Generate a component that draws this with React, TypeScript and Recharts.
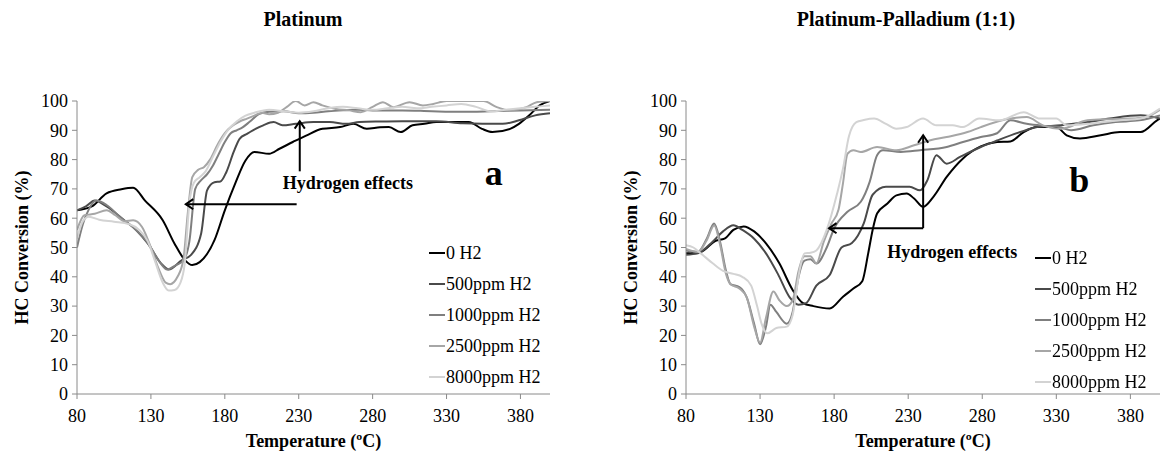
import React from 'react';
import { LineChart, Line, XAxis, YAxis, ReferenceLine, ReferenceDot, Legend } from 'recharts';

const FONT = "'Liberation Serif', 'Times New Roman', Times, 'DejaVu Serif', serif";

const seriesNames = ['0 H2', '500ppm H2', '1000ppm H2', '2500ppm H2', '8000ppm H2'];
const seriesColors = ['#000000', '#4a4a4a', '#7f7f7f', '#a6a6a6', '#d3d3d3'];
const xTicks = [80, 130, 180, 230, 280, 330, 380];
const yTicks = [0, 10, 20, 30, 40, 50, 60, 70, 80, 90, 100];

// Platinum: [temperature °C, HC conversion %]
const pt0H2: [number, number][] = [[80,62.7],[90,64],[100,68.5],[110,69.9],[118,70.4],[126,66],[138,59.3],[146,51.3],[153,45.7],[158,44],[163,45],[173,52.5],[180,62.7],[187,71.8],[194,79.7],[200,82.6],[210,82],[217,83.7],[226,86],[235,88.2],[246,90.5],[258,91.1],[267,92.2],[276,90.5],[285,91],[291,91.1],[299,89.4],[307,91.7],[315,92.2],[323,92.8],[345,92.8],[354,90.5],[361,89.4],[373,90.5],[379,92.2],[386,95.1],[393,98.5],[400,100]];
const pt500: [number, number][] = [[80,62.7],[86,64],[92,66],[100,64],[112,59.3],[120,56],[128,51.3],[137,44.5],[142,42.5],[151,45.7],[157,47.4],[164,54.8],[168,69.5],[173,72.3],[177,72.5],[181,75.7],[186,82.6],[190,87.1],[195,88.8],[199,90],[206,91.7],[213,92.8],[219,91.7],[228,92.2],[240,92.8],[251,92.8],[262,92.2],[271,92.8],[285,93],[300,93.1],[323,93.1],[341,92.4],[368,92.2],[379,93.4],[390,95.1],[400,95.8]];
const pt1000: [number, number][] = [[80,50],[84,58],[88,63],[93,66],[100,64.5],[110,60],[120,56],[128,51.5],[136,45],[141,42.5],[147,44],[152,45.5],[156,52],[160,70],[164,73],[168,75],[172,78],[176,82],[180,86],[184,89],[188,90],[192,91],[197,93],[203,95.5],[210,96.3],[220,96.5],[230,95.8],[240,96],[250,96.5],[260,96.8],[270,97],[280,96.8],[300,96.8],[320,96.5],[340,96.3],[360,96.5],[380,96.8],[400,97]];
const pt2500: [number, number][] = [[80,56],[85,61],[92,61.5],[100,62.7],[106,61],[112,59],[118,59.3],[124,57],[130,50],[135,43],[140,38],[143,37.5],[148,40],[152,46],[155,62],[158,74],[162,76.5],[166,77.5],[170,80],[175,85],[180,89],[185,91.5],[190,93],[195,94],[200,95],[205,96],[210,95.5],[216,96],[222,98],[228,100],[234,98.5],[240,99.6],[246,98.5],[255,97.3],[264,96.8],[272,96.2],[280,98],[287,99.6],[294,97.9],[305,99.6],[314,98.5],[321,99],[330,100],[355,100],[364,97.9],[373,96.8],[384,97.9],[391,99.6],[400,100]];
const pt8000: [number, number][] = [[80,53],[84,59],[88,60.5],[95,59.5],[105,58.8],[115,58],[122,56],[128,52],[133,45],[138,38],[142,35.3],[146,35.5],[150,38],[153,45],[156,65],[159,72],[163,74],[167,76],[172,81],[177,86],[182,90],[188,93],[194,95],[200,96],[210,97],[220,96.5],[230,96],[240,96.5],[250,97.5],[260,98],[270,97.5],[280,97],[290,97.5],[300,98],[310,97.5],[320,98],[330,98.5],[340,99],[350,98],[360,96.5],[370,97],[380,97.5],[390,98],[400,98.5]];

// Platinum-Palladium (1:1)
const pd0H2: [number, number][] = [[80,48],[90,48.5],[100,52.3],[106,53],[112,56],[119,57.2],[126,55.5],[134,51.4],[143,44.6],[152,35.5],[159,31],[166,30],[177,29.2],[186,33.2],[193,36],[199,38.5],[203,48],[206,56],[209,61.6],[216,65],[222,67.8],[229,68.4],[234,66.7],[240,63.9],[247,67.3],[256,74.1],[267,80.4],[279,84.5],[290,86],[299,86.2],[308,89.4],[317,91.1],[330,91.1],[337,88.3],[346,87.2],[360,88.3],[373,89.4],[387,89.4],[398,93.4],[400,94]];
const pd500: [number, number][] = [[80,47.5],[88,48],[98,52],[105,55.5],[112,57.6],[118,56],[126,53],[134,48],[142,41],[150,33],[156,30.5],[161,31],[168,37],[177,40.6],[185,50],[192,51.5],[200,58.2],[206,68],[215,70.7],[231,70.7],[238,69.5],[243,73],[249,81.5],[256,78.6],[265,80.9],[279,84.3],[290,86.5],[308,89.8],[317,91.1],[333,91.7],[351,92.8],[366,94],[387,95.1],[400,94]];
const pd1000: [number, number][] = [[80,49],[88,48.5],[94,53],[99,58.2],[103,52],[107,42],[110,37.5],[116,36.5],[121,33],[126,24],[130,17],[134,23],[137,30.5],[141,28],[148,24],[152,28],[156,40],[160,45.5],[164,46],[168,44.5],[175,50],[180,56.5],[189,62.2],[198,65.6],[204,72.4],[209,81.5],[213,83.2],[225,82.6],[238,83.2],[256,84.3],[267,86],[279,87.7],[290,89],[299,93.4],[310,92.2],[322,91.5],[332,91.1],[340,90],[355,91.7],[370,92.8],[386,93.4],[400,95.1]];
const pd2500: [number, number][] = [[80,49.5],[88,48.5],[94,52.5],[99,57.5],[103,51],[107,41],[110,37.5],[116,36],[121,33],[126,23],[130,17.5],[134,26],[139,35],[143,32],[148,30],[152,32],[156,42],[160,47],[164,47],[168,44.6],[173,52],[178,58],[183,63],[186,72],[189,82],[193,83.2],[198,82.6],[209,84.3],[222,83.2],[234,84.9],[245,86.6],[256,87.7],[270,89.4],[279,91.1],[299,94],[310,94.5],[321,91.7],[333,90.5],[351,93.4],[365,93.8],[380,94],[390,94.5],[400,97]];
const pd8000: [number, number][] = [[80,50.8],[85,50],[90,48],[98,44.6],[105,42],[112,41],[118,40],[124,37],[128,30],[131,24],[135,20.7],[141,22.5],[148,23],[152,27],[157,43],[160,48],[164,48.2],[168,49],[175,56],[182,68.4],[186,77],[190,88],[195,92.8],[200,93.5],[207,94],[215,92.2],[222,90.5],[229,91.1],[240,94],[249,91.7],[260,91.7],[267,91.1],[278,94],[292,93.4],[308,96.2],[319,94],[330,94],[337,91.7],[351,92.2],[362,92.8],[373,93.4],[387,94],[400,97.4]];

const toPoints = (arr: [number, number][]) => arr.map(([t, v]) => ({ t, v }));

const arrowShape = (props: any) => {
  const { x1, y1, x2, y2 } = props;
  const ang = Math.atan2(y2 - y1, x2 - x1);
  const L = 9;
  const w = 0.6;
  const ax1 = x2 - L * Math.cos(ang - w);
  const ay1 = y2 - L * Math.sin(ang - w);
  const ax2 = x2 - L * Math.cos(ang + w);
  const ay2 = y2 - L * Math.sin(ang + w);
  return (
    <g>
      <line x1={x1} y1={y1} x2={x2} y2={y2} stroke="#000" strokeWidth={2} />
      <path d={`M${ax1},${ay1} L${x2},${y2} L${ax2},${ay2}`} fill="none" stroke="#000" strokeWidth={2} />
    </g>
  );
};

const textShape = (label: string, size: number, anchor: 'start' | 'middle', baselineShift: number) => (props: any) => (
  <text x={props.cx} y={props.cy + baselineShift} textAnchor={anchor} style={{ fontFamily: FONT }} fontWeight="bold" fontSize={size} fill="#000">
    {label}
  </text>
);

const LegendBox = () => (
  <div style={{ fontFamily: FONT, fontSize: 18, color: '#000' }}>
    {seriesNames.map((n, i) => (
      <div key={n} style={{ display: 'flex', alignItems: 'center', height: 31 }}>
        <span style={{ display: 'inline-block', width: 16, height: 2, background: seriesColors[i], marginRight: 1 }} />
        <span style={{ lineHeight: '18px', whiteSpace: 'nowrap' }}>{n}</span>
      </div>
    ))}
  </div>
);

type PanelProps = {
  series: [number, number][][];
  width: number;
  marginRight: number;
  legendLeft: number;
  legendTop: number;
  hArrow: [number, number, number];
  vArrow: [number, number, number];
  textPos: [number, number];
  letter: string;
  letterPos: [number, number];
};

const axisColor = '#8a8a8a';
const tickStyle = { fill: '#000', fontSize: 18, style: { fontFamily: FONT } };

const Panel = (p: PanelProps) => (
  <LineChart width={p.width} height={461} margin={{ top: 101, right: p.marginRight, left: 0, bottom: 37 }} style={{ fontFamily: FONT }}>
    <XAxis
      dataKey="t"
      type="number"
      domain={[80, 400]}
      ticks={xTicks}
      allowDataOverflow
      stroke={axisColor}
      tickSize={5}
      tickMargin={10}
      height={30}
      tick={tickStyle}
      label={{ value: 'Temperature (ºC)', position: 'bottom', offset: 10, style: { fontFamily: FONT }, fontWeight: 'bold', fontSize: 18, fill: '#000' }}
    />
    <YAxis
      type="number"
      domain={[0, 100]}
      ticks={yTicks}
      allowDataOverflow
      stroke={axisColor}
      tickSize={5}
      tickMargin={4}
      width={77}
      tick={tickStyle}
      label={{ value: 'HC Conversion (%)', angle: -90, position: 'center', dx: -17, style: { fontFamily: FONT }, fontWeight: 'bold', fontSize: 18, fill: '#000' }}
    />
    {p.series.map((s, i) => (
      <Line
        key={seriesNames[i]}
        name={seriesNames[i]}
        data={toPoints(s)}
        dataKey="v"
        type="monotone"
        stroke={seriesColors[i]}
        strokeWidth={2}
        dot={false}
        activeDot={false}
        isAnimationActive={false}
      />
    ))}
    <ReferenceLine segment={[{ x: p.hArrow[0], y: p.hArrow[2] }, { x: p.hArrow[1], y: p.hArrow[2] }]} shape={arrowShape} />
    <ReferenceLine segment={[{ x: p.vArrow[0], y: p.vArrow[1] }, { x: p.vArrow[0], y: p.vArrow[2] }]} shape={arrowShape} />
    <ReferenceDot x={p.textPos[0]} y={p.textPos[1]} r={0} shape={textShape('Hydrogen effects', 18, 'start', 5)} />
    <ReferenceDot x={p.letterPos[0]} y={p.letterPos[1]} r={0} shape={textShape(p.letter, 36, 'middle', p.letter === 'a' ? 8 : 12)} />
    <Legend
      layout="vertical"
      align="center"
      verticalAlign="middle"
      content={<LegendBox />}
      wrapperStyle={{ left: p.legendLeft, top: p.legendTop, width: 140, height: 160 }}
    />
  </LineChart>
);

export default function App() {
  return (
    <div style={{ position: 'fixed', left: 0, top: 0, width: 1161, height: 461, background: '#fff', fontFamily: FONT }}>
      <div style={{ position: 'absolute', left: 153, top: 8, width: 300, textAlign: 'center', fontWeight: 'bold', fontSize: 20, lineHeight: '22px' }}>
        Platinum
      </div>
      <div style={{ position: 'absolute', left: 756, top: 8, width: 300, textAlign: 'center', fontWeight: 'bold', fontSize: 20, lineHeight: '22px' }}>
        Platinum-Palladium (1:1)
      </div>
      <div style={{ position: 'absolute', left: 0, top: 0 }}>
        <Panel
          series={[pt0H2, pt500, pt1000, pt2500, pt8000]}
          width={560}
          marginRight={10}
          legendLeft={429}
          legendTop={237}
          hArrow={[228.6, 153.6, 64.8]}
          vArrow={[230.7, 76, 93.1]}
          textPos={[219.2, 71.6]}
          letter="a"
          letterPos={[362, 74]}
        />
      </div>
      <div style={{ position: 'absolute', left: 609, top: 0 }}>
        <Panel
          series={[pd0H2, pd500, pd1000, pd2500, pd8000]}
          width={552}
          marginRight={1}
          legendLeft={426}
          legendTop={242}
          hArrow={[240.1, 176.6, 56.6]}
          vArrow={[240.1, 56.6, 88.3]}
          textPos={[215.8, 48.1]}
          letter="b"
          letterPos={[345.5, 73]}
        />
      </div>
    </div>
  );
}
